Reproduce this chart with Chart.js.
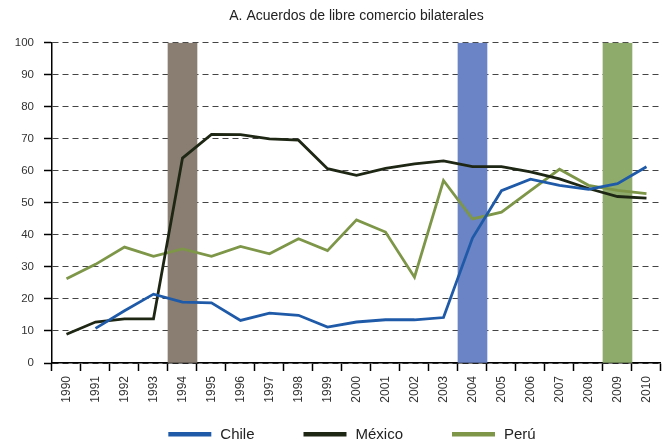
<!DOCTYPE html>
<html>
<head>
<meta charset="utf-8">
<script src="https://cdn.jsdelivr.net/npm/chart.js@4.4.1/dist/chart.umd.min.js"></script>
<style>
    html, body { margin: 0; padding: 0; background: #fff; }
</style>
</head>
<body>
<canvas id="chart" width="666" height="448"></canvas>
<script>
// datos
const years = ['1990', '1991', '1992', '1993', '1994', '1995', '1996', '1997', '1998', '1999', '2000',
    '2001', '2002', '2003', '2004', '2005', '2006', '2007', '2008', '2009', '2010'];
const chile = [null, 10.8, 16.3, 21.5, 19.0, 18.8, 13.3, 15.6, 14.9, 11.2, 12.8,
    13.5, 13.5, 14.2, 39.0, 53.8, 57.4, 55.5, 54.2, 56.0, 61.3];
const mexico = [9.0, 12.8, 13.8, 13.8, 64.0, 71.4, 71.3, 70.0, 69.6, 60.7, 58.6,
    60.8, 62.2, 63.1, 61.3, 61.3, 59.7, 57.5, 54.5, 52.0, 51.5];
const peru = [26.3, 30.8, 36.2, 33.3, 35.6, 33.3, 36.4, 34.1, 38.8, 35.1, 44.7,
    40.9, 26.8, 57.0, 45.0, 47.1, 53.8, 60.5, 55.5, 53.9, 52.9];
// franjas verticales (1994, 2004, 2009)
const bands = [null, null, null, null, 100, null, null, null, null, null, null,
    null, null, null, 100, null, null, null, null, 100, null];
const yTicks = [0, 10, 20, 30, 40, 50, 60, 70, 80, 90, 100];

const bandColors = { '1994': '#8a7e72', '2004': '#6b84c6', '2009': '#8fab6c' };
const font = '"Liberation Sans", Arial, sans-serif';

const legendPlugin = {
    id: 'bottomLegend',
    afterDraw(chart) {
        const ctx = chart.ctx;
        const items = chart.data.datasets.filter((d) => d.type === 'line');
        ctx.save();
        ctx.font = '15px ' + font;
        const boxW = 43, gap = 9, spacing = 49;
        const widths = items.map((d) => boxW + gap + ctx.measureText(d.label).width);
        const total = widths.reduce((a, b) => a + b, 0) + spacing * (items.length - 1);
        let x = 352 - total / 2;
        const y = 434;
        ctx.textBaseline = 'middle';
        items.forEach((d, i) => {
            ctx.fillStyle = d.borderColor;
            ctx.fillRect(x, y - 2, boxW, 4.5);
            ctx.fillStyle = '#222';
            ctx.fillText(d.label, x + boxW + gap, y + 1);
            x += widths[i] + spacing;
        });
        ctx.restore();
    },
};

const lineDs = (label, data, color) => ({
    type: 'line',
    label: label,
    data: data,
    borderColor: color,
    backgroundColor: color,
    borderWidth: 2.8,
    pointRadius: 0,
    tension: 0,
    spanGaps: false,
    order: 1,
});

new Chart(document.getElementById('chart'), {
    data: {
        labels: years,
        datasets: [
            lineDs('Chile', chile, '#1f5aa8'),
            lineDs('México', mexico, '#1e2614'),
            lineDs('Perú', peru, '#7d9648'),
            {
                type: 'bar',
                label: 'franjas',
                data: bands,
                backgroundColor: (c) => bandColors[years[c.dataIndex]] || 'transparent',
                barPercentage: 1,
                categoryPercentage: 1,
                order: 10,
            },
        ],
    },
    options: {
        responsive: false,
        animation: false,
        layout: { padding: { top: 0, right: 1, bottom: 35, left: 0 } },
        plugins: {
            legend: { display: false },
            tooltip: { enabled: false },
            title: {
                display: true,
                text: 'A. Acuerdos de libre comercio bilaterales',
                color: '#222',
                fullSize: false,
                font: { family: font, size: 14, weight: 'normal' },
                padding: { top: 8, bottom: 18 },
            },
        },
        scales: {
            x: {
                type: 'category',
                offset: true,
                grid: { offset: true, drawOnChartArea: false, drawTicks: true, tickLength: 8, tickColor: '#000', tickWidth: 1.5 },
                border: { color: '#000', width: 1.5 },
                ticks: {
                    color: '#333',
                    font: { family: font, size: 12 },
                    minRotation: 90,
                    maxRotation: 90,
                    padding: 5,
                    autoSkip: false,
                },
                afterFit: (s) => { s.height = 50; },
            },
            y: {
                min: 0,
                max: 100,
                afterBuildTicks: (s) => { s.ticks = yTicks.map((v) => ({ value: v })); },
                grid: { color: '#444', lineWidth: 1, tickLength: 8, tickColor: '#000', tickWidth: 1.5 },
                border: { color: '#000', width: 1.5, dash: [6, 4] },
                ticks: { color: '#333', font: { family: font, size: 11.5 }, padding: 10 },
                afterFit: (s) => { s.width = 52; },
            },
        },
    },
    plugins: [legendPlugin],
});
</script>
</body>
</html>
